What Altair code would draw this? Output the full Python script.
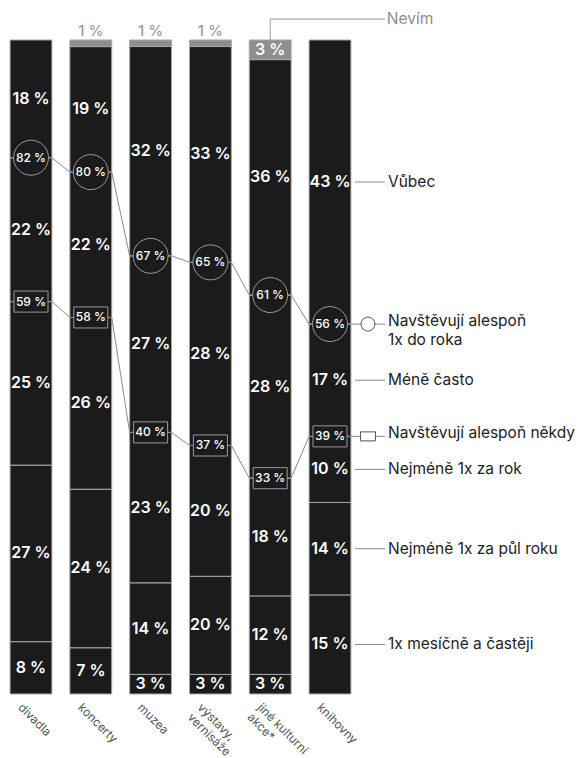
import altair as alt
import pandas as pd

# ---------------- data ----------------
categories = ["divadla", "koncerty", "muzea", "výstavy,\nvernisáže",
              "jiné kulturní\nakce*", "knihovny"]
segments = ["1x mesíčně a častěji", "Nejméně 1x za půl roku",
            "Nejméně 1x za rok", "Méně často", "Vůbec", "Nevím"]

mesicne = [8, 7, 3, 3, 3, 15]
pul_roku = [27, 24, 14, 15, 12, 14]        # drawn heights
za_rok = [25, 26, 23, 20, 18, 10]
mene_casto = [22, 22, 27, 28, 28, 17]
vubec = [18, 19, 32, 33, 36, 43]
nevim = [0, 1, 1, 1, 3, 0]

# printed segment labels (the source prints 20 % for the výstavy half-year segment)
pul_roku_printed = [27, 24, 14, 20, 12, 14]

circle_vals = [82, 80, 67, 65, 61, 56]   # Navštěvují alespoň 1x do roka
square_vals = [59, 58, 40, 37, 33, 39]   # Navštěvují alespoň někdy

# ---------------- layout constants ----------------
W, H = 578, 758
X_DOMAIN = [-0.5184, 9.1472]
Y_DOMAIN = [-9.786, 106.116]
HALF = 0.35
LEG_LINE_START = 5.418
LEG_LINE_END = 5.92
LEG_MARK = 5.635
LEG_TEXT = 5.97
NEVIM_TOP = 103.2

DARK = "#1b1b1b"
GRAY = "#8e8e8e"
LINE = "#8a8a8a"
FONT = "Inter"

series = [mesicne, pul_roku, za_rok, mene_casto, vubec, nevim]
printed = [mesicne, pul_roku_printed, za_rok, mene_casto, vubec, nevim]

bar_rows, seg_lbl_rows = [], []
cum_tops = []  # cum_tops[i][k] = top of segment k in bar i
for i, cat in enumerate(categories):
    total = sum(s[i] for s in series)
    acc = 0.0
    tops = []
    for k, seg in enumerate(segments):
        v = series[k][i] * 100.0 / total
        y0, y1 = acc, acc + v
        acc = y1
        tops.append(y1)
        if series[k][i] == 0:
            continue
        bar_rows.append(dict(cat=cat, seg=seg, x0=i - HALF, x1=i + HALF,
                             y0=y0, y1=y1, fill=GRAY if k == 5 else DARK))
        lbl = f"{printed[k][i]} %"
        if k == 5 and series[k][i] < 2:
            seg_lbl_rows.append(dict(x=i, y=y1, label=lbl, where="above"))
        else:
            seg_lbl_rows.append(dict(x=i, y=(y0 + y1) / 2, label=lbl, where="inside"))
    cum_tops.append(tops)

bars_df = pd.DataFrame(bar_rows)
seg_df = pd.DataFrame(seg_lbl_rows)

line_rows, mark_rows = [], []
for key, lvl, vals in [("circle", 3, circle_vals), ("square", 2, square_vals)]:
    for i in range(len(categories)):
        y = cum_tops[i][lvl]
        line_rows.append(dict(series=key, o=2 * i, x=i - HALF, y=y))
        line_rows.append(dict(series=key, o=2 * i + 1, x=i + HALF, y=y))
        mark_rows.append(dict(series=key, x=i, y=y, label=f"{vals[i]} %"))
    line_rows.append(dict(series=key, o=99, x=LEG_LINE_END, y=cum_tops[-1][lvl]))
lines_df = pd.DataFrame(line_rows)
marks_df = pd.DataFrame(mark_rows)

# legend rows: knihovny segment centres
kn = len(categories) - 1
leg_rows = []
for k in range(5):
    y0 = cum_tops[kn][k - 1] if k > 0 else 0
    y1 = cum_tops[kn][k]
    leg_rows.append(dict(label=segments[k], y=(y0 + y1) / 2))
leg_df = pd.DataFrame(leg_rows)
leg_mark_df = pd.DataFrame([
    dict(series="circle", y=cum_tops[kn][3], label="Navštěvují alespoň\n1x do roka"),
    dict(series="square", y=cum_tops[kn][2], label="Navštěvují alespoň někdy"),
])

cat_df = pd.DataFrame(dict(x=[i - 0.12 for i in range(len(categories))],
                           y=[-1.2] * len(categories), label=categories))

nevim_i = 4
nevim_line_df = pd.DataFrame([
    dict(o=0, x=nevim_i, y=cum_tops[nevim_i][5]),
    dict(o=1, x=nevim_i, y=NEVIM_TOP),
    dict(o=2, x=LEG_LINE_END, y=NEVIM_TOP),
])
nevim_txt_df = pd.DataFrame([dict(x=LEG_TEXT - 0.02, y=NEVIM_TOP, label=segments[5])])

xs = alt.Scale(domain=X_DOMAIN, nice=False, zero=False)
ys = alt.Scale(domain=Y_DOMAIN, nice=False, zero=False)


def X(f):
    return alt.X(f, scale=xs, axis=None)


def Y(f):
    return alt.Y(f, scale=ys, axis=None)


bars = alt.Chart(bars_df).mark_rect(stroke="#a8a8a8", strokeWidth=1).encode(
    x=X("x0:Q"), x2="x1:Q", y=Y("y0:Q"), y2="y1:Q",
    fill=alt.Fill("fill:N", scale=None))

seg_in = alt.Chart(seg_df).transform_filter("datum.where == 'inside'").mark_text(
    font=FONT, fontSize=16, fontWeight=600, color="white", baseline="middle"
).encode(x=X("x:Q"), y=Y("y:Q"), text="label:N")

seg_above = alt.Chart(seg_df).transform_filter("datum.where == 'above'").mark_text(
    font=FONT, fontSize=15, fontWeight=500, color="#9a9a9a", baseline="middle", dy=-9
).encode(x=X("x:Q"), y=Y("y:Q"), text="label:N")

conn = alt.Chart(lines_df).mark_line(color=LINE, strokeWidth=1).encode(
    x=X("x:Q"), y=Y("y:Q"), order="o:Q", detail="series:N")

circles = alt.Chart(marks_df).transform_filter("datum.series == 'circle'").mark_point(
    shape="circle", size=1225, filled=True, fill=DARK, stroke="#9a9a9a",
    strokeWidth=1, opacity=1
).encode(x=X("x:Q"), y=Y("y:Q"))

squares = alt.Chart(marks_df).transform_filter("datum.series == 'square'").mark_point(
    shape="M-1,-0.62L1,-0.62L1,0.62L-1,0.62Z", size=1156, filled=True, fill=DARK,
    stroke="#9a9a9a", strokeWidth=1, opacity=1
).encode(x=X("x:Q"), y=Y("y:Q"))

mark_txt = alt.Chart(marks_df).mark_text(
    font=FONT, fontSize=12, fontWeight=500, color="white", baseline="middle"
).encode(x=X("x:Q"), y=Y("y:Q"), text="label:N")

leg_rules = alt.Chart(leg_df).mark_rule(color=LINE, strokeWidth=1).encode(
    x=X("a:Q"), x2="b:Q", y=Y("y:Q")
).transform_calculate(a=str(LEG_LINE_START), b=str(LEG_LINE_END))

leg_text = alt.Chart(leg_df).mark_text(
    font=FONT, fontSize=15.5, color="#222222", align="left", baseline="middle"
).encode(x=X("xx:Q"), y=Y("y:Q"), text="label:N").transform_calculate(xx=str(LEG_TEXT))

leg_circle = alt.Chart(leg_mark_df).transform_filter("datum.series == 'circle'").mark_point(
    shape="circle", size=196, filled=True, fill="white", stroke="#555555",
    strokeWidth=1, opacity=1
).encode(x=X("xx:Q"), y=Y("y:Q")).transform_calculate(xx=str(LEG_MARK))

leg_square = alt.Chart(leg_mark_df).transform_filter("datum.series == 'square'").mark_point(
    shape="M-1,-0.6L1,-0.6L1,0.6L-1,0.6Z", size=225, filled=True, fill="white",
    stroke="#555555", strokeWidth=1, opacity=1
).encode(x=X("xx:Q"), y=Y("y:Q")).transform_calculate(xx=str(LEG_MARK))

leg_mark_text = alt.Chart(leg_mark_df).mark_text(
    font=FONT, fontSize=15.5, color="#222222", align="left", baseline="top",
    lineBreak="\n", lineHeight=19, dy=-10
).encode(x=X("xx:Q"), y=Y("y:Q"), text="label:N").transform_calculate(xx=str(LEG_TEXT))

nevim_line = alt.Chart(nevim_line_df).mark_line(color="#9a9a9a", strokeWidth=1).encode(
    x=X("x:Q"), y=Y("y:Q"), order="o:Q")

nevim_text = alt.Chart(nevim_txt_df).mark_text(
    font=FONT, fontSize=15.5, color="#8e8e8e", align="left", baseline="middle"
).encode(x=X("x:Q"), y=Y("y:Q"), text="label:N")

cat_text = alt.Chart(cat_df).mark_text(
    font=FONT, fontSize=12, color="#555555", align="left", baseline="top",
    angle=45, lineBreak="\n", lineHeight=14
).encode(x=X("x:Q"), y=Y("y:Q"), text="label:N")

chart = alt.layer(
    bars, conn, leg_rules, nevim_line, seg_in, seg_above, circles, squares, mark_txt,
    leg_circle, leg_square, leg_text, leg_mark_text, nevim_text, cat_text
).properties(
    width=W, height=H, padding=0,
    autosize=alt.AutoSizeParams(type="none"),
    background="white"
).configure_view(stroke=None)

chart.save("out.html", embed_options={"renderer": "svg", "actions": False})
